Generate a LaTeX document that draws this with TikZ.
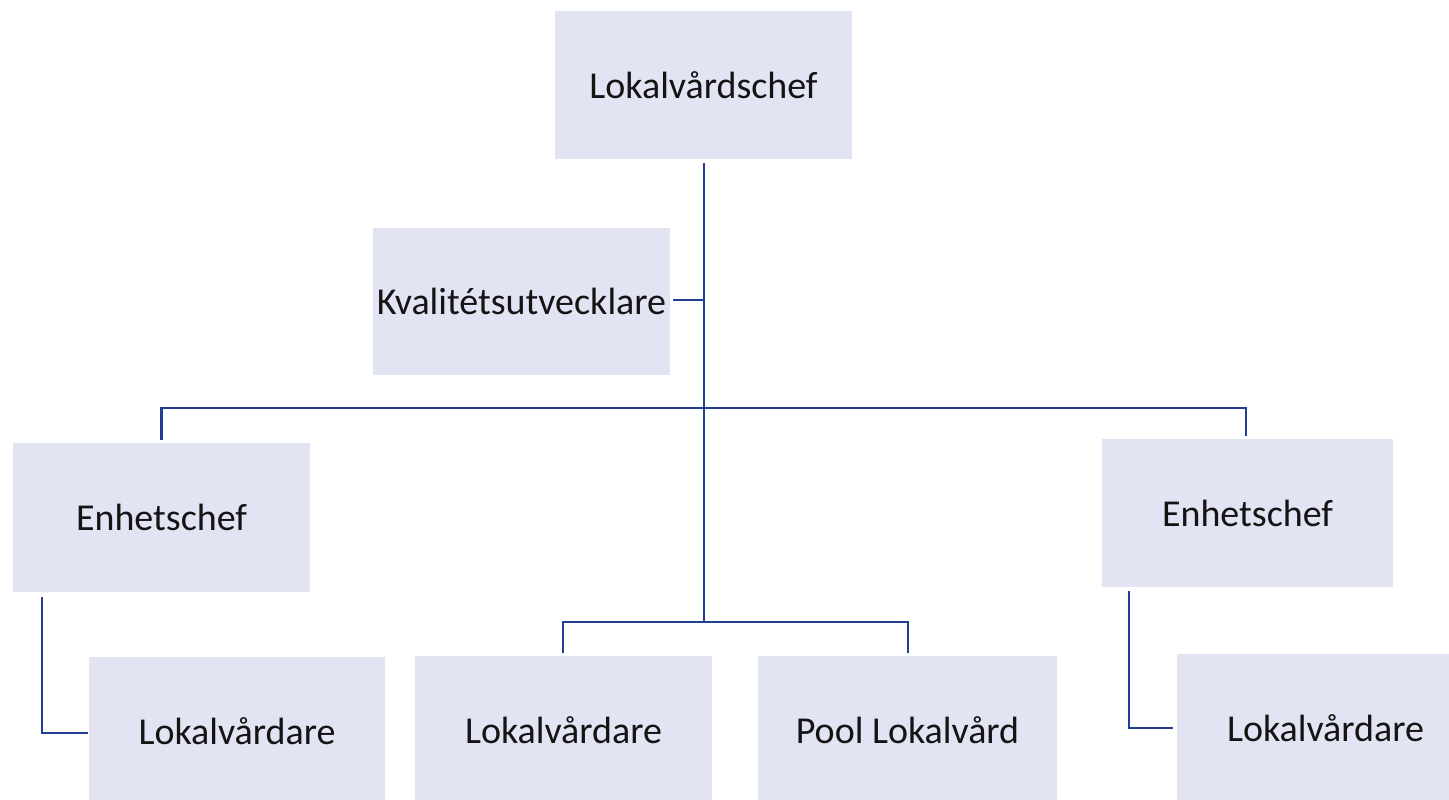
\documentclass[tikz,border=0pt]{standalone}
\usepackage{fontspec}
\setmainfont{Carlito}
\usetikzlibrary{calc}
\definecolor{boxfill}{HTML}{E3E4F3}
\definecolor{linkblue}{HTML}{213E94}
\tikzset{
  orgbox/.style={fill=boxfill, minimum width=297pt, minimum height=147pt,
    inner sep=0pt, text=black!92, font=\fontsize{38}{45}\selectfont},
  link/.style={draw=linkblue, line width=2.2pt},
}
\begin{document}
\begin{tikzpicture}[x=1pt,y=-1pt]
\useasboundingbox (0,0) rectangle (1449,800);

% boxes
\node[orgbox] (chef)  at (703.5,85)  {Lokalvårdschef};
\node[orgbox] (kval)  at (521.5,301) {Kvalitétsutvecklare};
\node[orgbox, minimum height=149pt] (enL) at (161.5,517.5) {Enhetschef};
\node[orgbox, minimum width=291pt, minimum height=148pt] (enR) at (1247.5,513) {Enhetschef};
\node[orgbox, minimum width=296pt, minimum height=148pt] (lvL) at (237,731) {Lokalvårdare};
\node[orgbox, minimum height=149pt] (lvM)  at (563.5,730.5) {Lokalvårdare};
\node[orgbox, minimum width=299pt, minimum height=149pt] (pool) at (907.5,730.5) {Pool Lokalvård};
\node[orgbox, minimum height=148pt] (lvR)  at (1325.5,728) {Lokalvårdare};

% junction points
\coordinate (trunkTop) at ($(chef.south)+(0.5,4)$);
\coordinate (midBar)   at (704,408);
\coordinate (kvalJoin) at (704,300);
\coordinate (lowBar)   at (704,622);

% trunk from the head down to the lower bar
\draw[link] (trunkTop) -- (lowBar);
% staff position
\draw[link] ($(kval.east)+(3,-1)$) -- (kvalJoin);
% upper bar to both unit heads
\draw[link] ($(enL.north)+(0,-3)$) |- (midBar) -| ($(enR.north)+(-1.5,-3)$);
% lower bar to the central groups
\draw[link] (563,653) |- (lowBar) -| (908,653);
% unit heads to their staff
\draw[link] ($(enL.south)+(-119.5,5)$) |- ($(lvL.west)+(-1,2)$);
\draw[link] ($(enR.south)+(-118.5,4)$) |- ($(lvR.west)+(-4,0)$);
\end{tikzpicture}
\end{document}
